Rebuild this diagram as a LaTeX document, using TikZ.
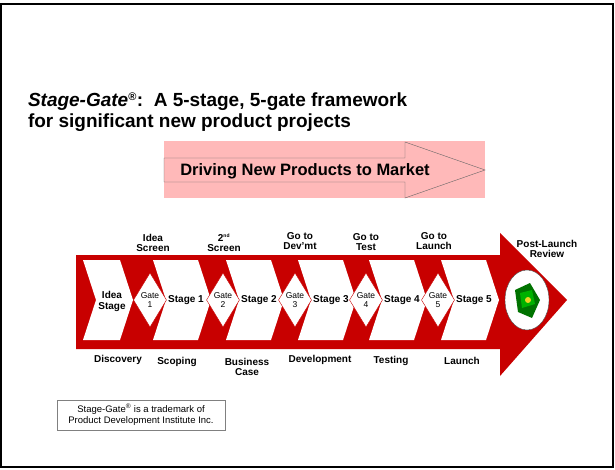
\documentclass[tikz,border=0pt]{standalone}
\usepackage{fontspec}
\setmainfont{Liberation Sans}
\usetikzlibrary{shapes.geometric}
\definecolor{sgred}{RGB}{200,0,0}
\definecolor{sgpink}{RGB}{255,185,185}
\begin{document}
\begin{tikzpicture}[x=1pt,y=-1pt,inner sep=0pt,outer sep=0pt,
gatebox/.style={draw=sgred,fill=white,diamond,minimum width=28pt,minimum height=54pt,font=\fontsize{8.5}{8.5}\selectfont,align=center},
stagetext/.style={font=\fontsize{10}{11}\selectfont\bfseries,align=center},
gatelabel/.style={font=\fontsize{10}{10}\selectfont\bfseries,align=center}]

\useasboundingbox (0,0) rectangle (615,470);
\draw[line width=1.5pt] (1,4) rectangle (613,467);

% title
\node[anchor=base west,font=\fontsize{19}{22}\selectfont\bfseries] (title1) at (28,107) {\textit{Stage-Gate}\textsuperscript{\fontsize{11}{11}\selectfont\textregistered}:\ \ A 5-stage, 5-gate framework};
\node[anchor=base west,font=\fontsize{19}{22}\selectfont\bfseries] (title2) at (28,128) {for significant new product projects};

% pink arrow
\fill[sgpink] (164,141) rectangle (485,198);
\draw[thin,draw=black!60] (164,158) -- (405,158) -- (405,142) -- (485,170) -- (405,198) -- (405,182) -- (164,182) -- cycle;
\node[font=\fontsize{16.5}{18}\selectfont\bfseries] (drive) at (305,171) {Driving New Products to Market};

% big red arrow
\fill[sgred] (76,255) -- (500,255) -- (500,233) -- (567,300) -- (500,376) -- (500,349) -- (76,349) -- cycle;

% chevrons
\fill[white] (83,260) -- (120,260) -- (133,300) -- (120,340) -- (83,340) -- (96,300) -- cycle;
\foreach \L in {153,226,298,369,441}
  \fill[white] (\L,260) -- (\L+45,260) -- (\L+58,300) -- (\L+45,340) -- (\L,340) -- (\L+13,300) -- cycle;

\node[stagetext] (idea) at (112,301) {Idea\\Stage};
\foreach \L/\n in {153/1,226/2,298/3,369/4,441/5}{
  \node[stagetext] (stage\n) at (\L+33,300) {Stage \n};
  \node[gatebox] (gate\n) at (\L-3,300) {Gate\\\n};
}

% review
\node[draw=black!70,fill=white,ellipse,minimum width=44pt,minimum height=60pt] (review) at (527,300) {};
\fill[green!45!black] (515,290) -- (530,283) -- (540,300) -- (532,318) -- (518,312) -- cycle;
\fill[green!70!black] (520,293) -- (532,290) -- (535,304) -- (522,308) -- cycle;
\fill[yellow!70!brown] (528,300) circle (3);

% labels above
\node[gatelabel] (g1) at (153,243) {Idea\\Screen};
\node[gatelabel] (g2) at (224,243) {2\textsuperscript{\fontsize{5}{5}\selectfont nd}\\Screen};
\node[gatelabel] (g3) at (300,241) {Go to\\Dev'mt};
\node[gatelabel] (g4) at (366,242) {Go to\\Test};
\node[gatelabel] (g5) at (434,241) {Go to\\Launch};
\node[gatelabel] (plr) at (547,249) {Post-Launch\\Review};

% labels below
\node[gatelabel] (s0) at (118,360) {Discovery};
\node[gatelabel] (s1) at (177,362) {Scoping};
\node[gatelabel] (s2) at (247,367) {Business\\Case};
\node[gatelabel] (s3) at (320,360) {Development};
\node[gatelabel] (s4) at (391,361) {Testing};
\node[gatelabel] (s5) at (462,361) {Launch};

% trademark
\node[draw=black!50,minimum width=168pt,minimum height=30pt,align=center,
  font=\fontsize{9.5}{11}\selectfont] (tm) at (141,415)
  {Stage-Gate\textsuperscript{\textregistered} is a trademark of\\Product Development Institute Inc.};
\end{tikzpicture}
\end{document}
